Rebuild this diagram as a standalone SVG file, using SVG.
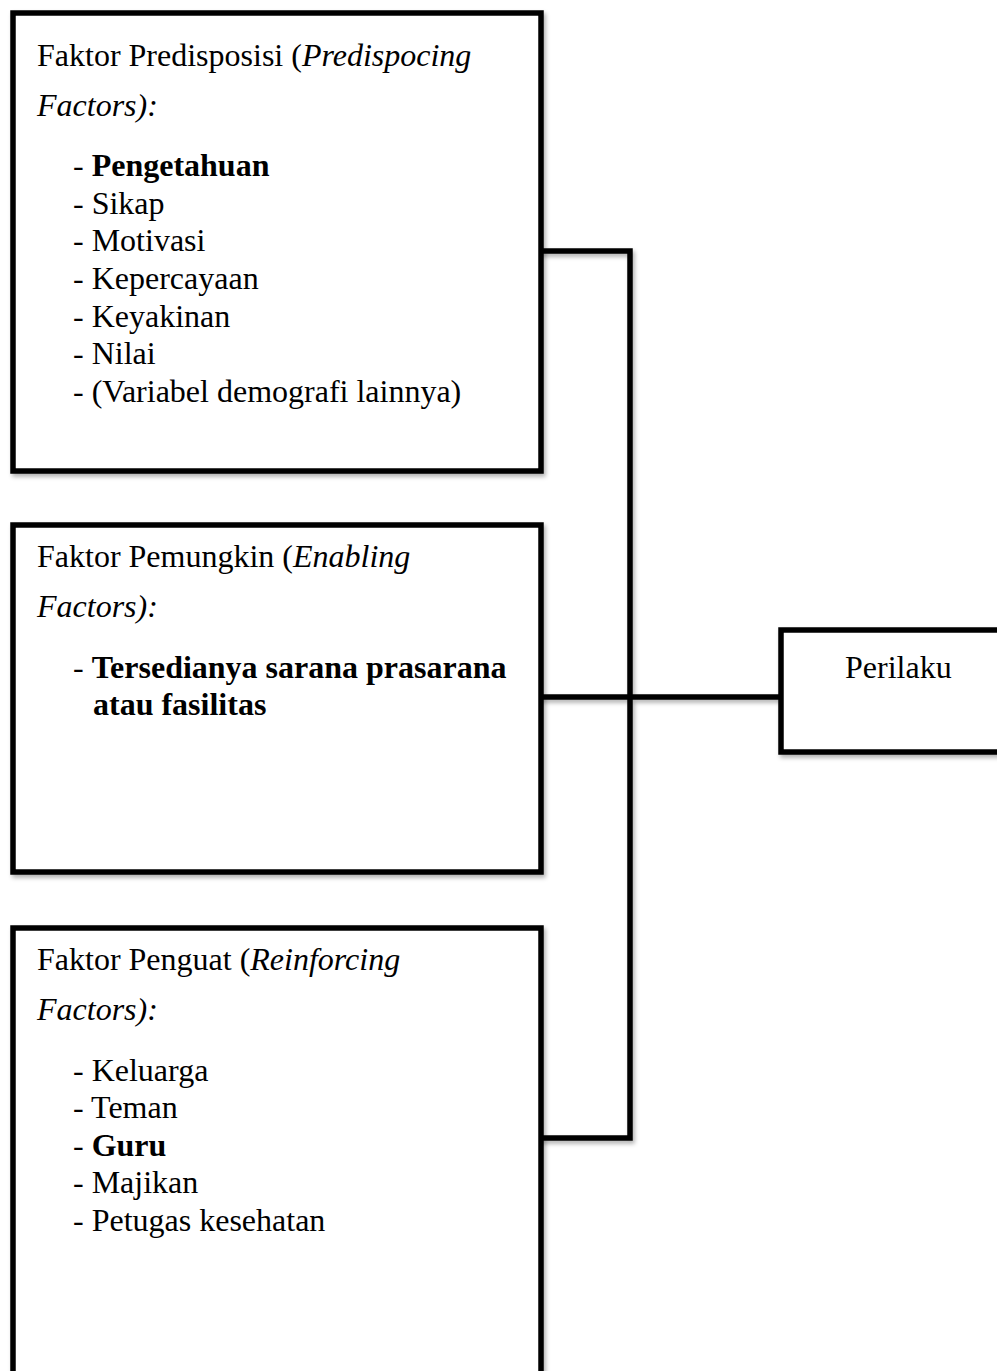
<svg xmlns="http://www.w3.org/2000/svg" width="997" height="1371" viewBox="0 0 997 1371">
<style>
.box{fill:#fff;stroke:#000;stroke-width:5.5}
.ln{fill:none;stroke:#000;stroke-width:5.5;stroke-linecap:square}
text{font-family:"Liberation Serif","Times New Roman",serif;font-size:32px;fill:#000}
.b{font-weight:bold}
.i{font-style:italic}
</style>
<defs>
<filter id="sh" x="-10%" y="-10%" width="130%" height="130%">
<feDropShadow dx="2" dy="3" stdDeviation="2" flood-color="#000" flood-opacity="0.3"/>
</filter>
</defs>
<g id="connectors" filter="url(#sh)">
<path class="ln" d="M541 251 H630 V1138 H541"/>
<path class="ln" d="M541 697 H781"/>
</g>
<g id="node-predisposisi">
<rect class="box" x="13" y="13" width="528" height="458" filter="url(#sh)"/>
<text x="37" y="66">Faktor Predisposisi (<tspan class="i">Predispocing</tspan></text>
<text x="37" y="116" class="i">Factors):</text>
<text x="73" y="176">- <tspan class="b">Pengetahuan</tspan></text>
<text x="73" y="214">- Sikap</text>
<text x="73" y="251">- Motivasi</text>
<text x="73" y="289">- Kepercayaan</text>
<text x="73" y="327">- Keyakinan</text>
<text x="73" y="364">- Nilai</text>
<text x="73" y="402">- (Variabel demografi lainnya)</text>
</g>
<g id="node-pemungkin">
<rect class="box" x="13" y="525" width="528" height="347" filter="url(#sh)"/>
<text x="37" y="567">Faktor Pemungkin (<tspan class="i">Enabling</tspan></text>
<text x="37" y="617" class="i">Factors):</text>
<text x="73" y="678">- <tspan class="b">Tersedianya sarana prasarana</tspan></text>
<text x="93" y="715" class="b">atau fasilitas</text>
</g>
<g id="node-penguat">
<rect class="box" x="13" y="928" width="528" height="480" filter="url(#sh)"/>
<text x="37" y="970">Faktor Penguat (<tspan class="i">Reinforcing</tspan></text>
<text x="37" y="1020" class="i">Factors):</text>
<text x="73" y="1081">- Keluarga</text>
<text x="73" y="1118">- Teman</text>
<text x="73" y="1156">- <tspan class="b">Guru</tspan></text>
<text x="73" y="1193">- Majikan</text>
<text x="73" y="1231">- Petugas kesehatan</text>
</g>
<g id="node-perilaku">
<rect class="box" x="781" y="630" width="260" height="122" filter="url(#sh)"/>
<text x="845" y="678">Perilaku</text>
</g>
</svg>
